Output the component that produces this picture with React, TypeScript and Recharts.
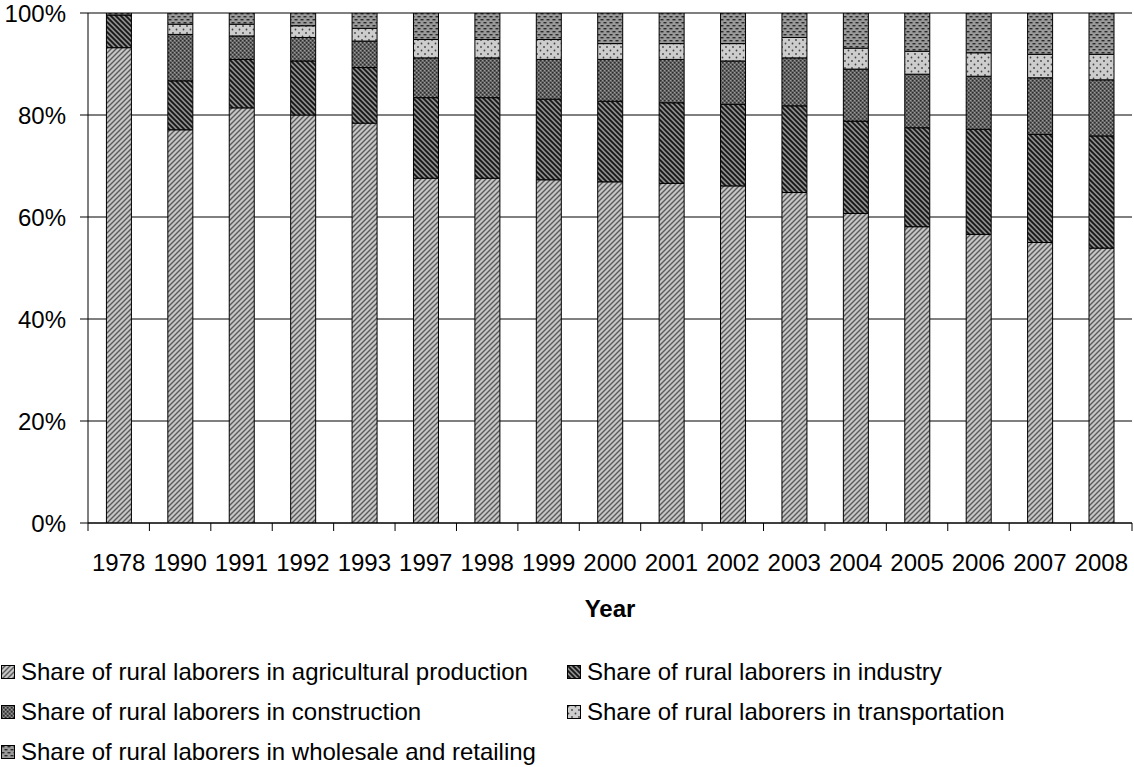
import React from 'react';
import { BarChart, Bar, XAxis, YAxis, CartesianGrid, Legend, Label } from 'recharts';

const years = ['1978', '1990', '1991', '1992', '1993', '1997', '1998', '1999', '2000', '2001', '2002', '2003', '2004', '2005', '2006', '2007', '2008'];
const agriculture = [93.2, 77.1, 81.4, 80.0, 78.4, 67.6, 67.6, 67.3, 66.9, 66.6, 66.1, 64.8, 60.7, 58.1, 56.6, 55.0, 53.9];
const industry = [6.4, 9.6, 9.5, 10.6, 10.9, 15.8, 15.8, 15.8, 15.8, 15.8, 16.0, 17.0, 18.1, 19.4, 20.6, 21.2, 22.0];
const construction = [0, 9.1, 4.6, 4.6, 5.2, 7.8, 7.8, 7.8, 8.2, 8.5, 8.5, 9.4, 10.2, 10.5, 10.4, 11.1, 11.0];
const transportation = [0, 2.0, 2.3, 2.3, 2.5, 3.6, 3.6, 3.9, 3.1, 3.1, 3.4, 4.0, 4.1, 4.5, 4.6, 4.6, 5.0];
const wholesale = [0.4, 2.2, 2.2, 2.5, 3.0, 5.2, 5.2, 5.2, 6.0, 6.0, 6.0, 4.8, 6.9, 7.5, 7.8, 8.1, 8.1];
const yTicks = [0, 20, 40, 60, 80, 100];

const seriesNames = [
  'Share of rural laborers in agricultural production',
  'Share of rural laborers in industry',
  'Share of rural laborers in construction',
  'Share of rural laborers in transportation',
  'Share of rural laborers in wholesale and retailing',
];
const seriesKeys = ['agri', 'ind', 'cons', 'trans', 'whole'];
const patternIds = ['pAgri', 'pInd', 'pCons', 'pTrans', 'pWhole'];

const data = years.map((year, i) => ({
  year,
  agri: agriculture[i],
  ind: industry[i],
  cons: construction[i],
  trans: transportation[i],
  whole: wholesale[i],
}));

const FONT = "Arial, 'Liberation Sans', Helvetica, sans-serif";

const XTick = (props: any) => {
  const { x, y, payload, index, visibleTicksCount } = props;
  const off = payload && payload.offset ? payload.offset : 30.7;
  const last = index === visibleTicksCount - 1;
  return (
    <g>
      <line x1={x - off} x2={x - off} y1={y} y2={y + 8} stroke="#000" strokeWidth={1} />
      {last && <line x1={x + off} x2={x + off} y1={y} y2={y + 8} stroke="#000" strokeWidth={1} />}
      <text x={x} y={y + 48} textAnchor="middle" fontSize={24} fontFamily={FONT} fill="#000">
        {payload.value}
      </text>
    </g>
  );
};

const legendPos = [
  { left: 0, top: 22 },
  { left: 566, top: 22 },
  { left: 0, top: 62 },
  { left: 566, top: 62 },
  { left: 0, top: 102 },
];

const LegendContent = () => (
  <div style={{ position: 'relative', width: 1134, height: 117, fontFamily: FONT, fontSize: 24, color: '#000' }}>
    {seriesNames.map((name, i) => (
      <div
        key={name}
        style={{
          position: 'absolute',
          left: legendPos[i].left,
          top: legendPos[i].top - 14,
          height: 28,
          display: 'flex',
          alignItems: 'center',
          whiteSpace: 'nowrap',
        }}
      >
        <svg width={14} height={14} style={{ marginLeft: 1, marginRight: 6 }}>
          <rect x={0.5} y={0.5} width={13} height={13} fill={`url(#${patternIds[i]})`} stroke="#000" strokeWidth={1} />
        </svg>
        <span style={{ lineHeight: '28px' }}>{name}</span>
      </div>
    ))}
  </div>
);

export default function App() {
  return (
    <div style={{ width: 1134, height: 767, overflow: 'hidden', background: '#fff' }}>
      <style>{'html,body{margin:0;padding:0;overflow:hidden;background:#fff}'}</style>
      <BarChart
        width={1134}
        height={767}
        data={data}
        margin={{ top: 13, right: 2, left: 0, bottom: 0 }}
        barCategoryGap="30%"
      >
        <defs>
          <pattern id="pAgri" width="5" height="5" patternUnits="userSpaceOnUse">
            <rect width="5" height="5" fill="#c6c6c6" />
            <path d="M-1,1 l2,-2 M0,5 l5,-5 M4,6 l2,-2" stroke="#5a5a5a" strokeWidth="1.4" />
          </pattern>
          <pattern id="pInd" width="5" height="5" patternUnits="userSpaceOnUse">
            <rect width="5" height="5" fill="#8c8c8c" />
            <path d="M-1,4 l2,2 M0,0 l5,5 M4,-1 l2,2" stroke="#151515" strokeWidth="1.8" />
          </pattern>
          <pattern id="pCons" width="4" height="4" patternUnits="userSpaceOnUse">
            <rect width="4" height="4" fill="#6e6e6e" />
            <rect x="0" y="0" width="1.5" height="1.5" fill="#2e2e2e" />
            <rect x="2" y="2" width="1.5" height="1.5" fill="#2e2e2e" />
            <rect x="2" y="0" width="1" height="1" fill="#9a9a9a" />
            <rect x="0" y="2" width="1" height="1" fill="#9a9a9a" />
          </pattern>
          <pattern id="pTrans" width="7" height="7" patternUnits="userSpaceOnUse">
            <rect width="7" height="7" fill="#cdcdcd" />
            <circle cx="1.5" cy="1.5" r="0.9" fill="#444" />
            <circle cx="5" cy="5" r="0.9" fill="#444" />
          </pattern>
          <pattern id="pWhole" width="6" height="6" patternUnits="userSpaceOnUse">
            <rect width="6" height="6" fill="#9a9a9a" />
            <rect x="0.5" y="1" width="3" height="1.4" fill="#2a2a2a" />
            <rect x="3.5" y="4" width="3" height="1.4" fill="#2a2a2a" />
            <rect x="-2.5" y="4" width="3" height="1.4" fill="#2a2a2a" />
          </pattern>
        </defs>
        <CartesianGrid vertical={false} stroke="#000" strokeWidth={1} />
        <XAxis
          dataKey="year"
          height={127}
          tickLine={false}
          tickSize={0}
          tickMargin={0}
          axisLine={{ stroke: '#000', strokeWidth: 1 }}
          tick={<XTick />}
          interval={0}
        >
          <Label
            value="Year"
            position="insideBottom"
            offset={33}
            style={{ fontSize: 24, fontWeight: 'bold', fontFamily: FONT, fill: '#000' }}
          />
        </XAxis>
        <YAxis
          width={88}
          domain={[0, 100]}
          ticks={yTicks}
          allowDataOverflow
          tickFormatter={(v: number) => `${v}%`}
          tickSize={8}
          tickMargin={14}
          tickLine={{ stroke: '#000' }}
          axisLine={{ stroke: '#000', strokeWidth: 1 }}
          tick={{ fontSize: 24, fontFamily: FONT, fill: '#000' }}
        />
        <Legend verticalAlign="bottom" align="left" height={117} width={1134} wrapperStyle={{ left: 0, bottom: 0 }} content={<LegendContent />} />
        {seriesKeys.map((k, i) => (
          <Bar
            key={k}
            dataKey={k}
            name={seriesNames[i]}
            stackId="a"
            fill={`url(#${patternIds[i]})`}
            stroke="#000"
            strokeWidth={1}
            isAnimationActive={false}
          />
        ))}
      </BarChart>
    </div>
  );
}
